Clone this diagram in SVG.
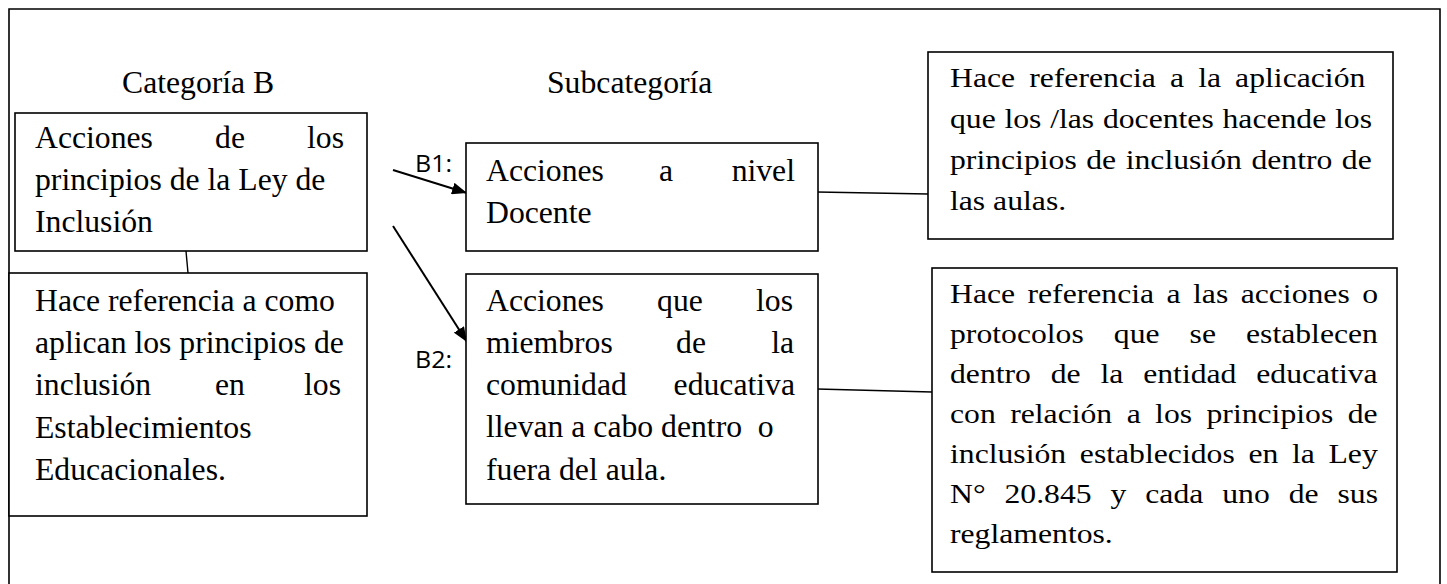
<svg xmlns="http://www.w3.org/2000/svg" width="1447" height="584" viewBox="0 0 1447 584">
<style>
.box{fill:#fff;stroke:#000;stroke-width:1.6}
.t{font-family:"Liberation Serif","Times New Roman",serif;font-size:31.7px;fill:#000}
.lbl{font-family:"Open Sans","DejaVu Sans",sans-serif;font-size:23px;fill:#000}
.ln{stroke:#000;stroke-width:1.4;fill:none}
.ar{stroke:#000;stroke-width:2;fill:none;marker-end:url(#ah)}
</style>
<defs>
<marker id="ah" viewBox="0 0 10 8" refX="10" refY="4" markerWidth="15" markerHeight="12" markerUnits="userSpaceOnUse" orient="auto">
<path d="M0,0 L10,4 L0,8 z" fill="#000"/>
</marker>
</defs>
<rect width="1447" height="584" fill="#fff"/>
<path id="frame" d="M9,600 V9 H1440 V600" fill="none" stroke="#000" stroke-width="1.6"/>
<g id="headers">
<text class="t" x="122" y="93">Categoría B</text>
<text class="t" x="547" y="93">Subcategoría</text>
</g>
<g id="connectors">
<line class="ln" x1="186" y1="251" x2="188" y2="273"/>
<line class="ar" x1="393" y1="170" x2="467" y2="193"/>
<line class="ar" x1="393" y1="226" x2="467" y2="342"/>
<line class="ln" x1="817" y1="192" x2="928" y2="194"/>
<line class="ln" x1="817" y1="389" x2="932" y2="392"/>
<text class="lbl" x="415" y="172" textLength="37" lengthAdjust="spacingAndGlyphs">B1:</text>
<text class="lbl" x="415" y="368" textLength="37" lengthAdjust="spacingAndGlyphs">B2:</text>
</g>
<g id="nodeA">
<rect class="box" x="15" y="113" width="352" height="138"/>
<text class="t" x="35" y="148">Acciones</text>
<text class="t" x="230" y="148" text-anchor="middle">de</text>
<text class="t" x="344" y="148" text-anchor="end">los</text>
<text class="t" x="35" y="190">principios de la Ley de</text>
<text class="t" x="35" y="232">Inclusión</text>
</g>
<g id="nodeC">
<rect class="box" x="9" y="273" width="358" height="243"/>
<text class="t" x="35" y="311">Hace referencia a como</text>
<text class="t" x="35" y="353">aplican los principios de</text>
<text class="t" x="35" y="395">inclusión</text>
<text class="t" x="230" y="395" text-anchor="middle">en</text>
<text class="t" x="341" y="395" text-anchor="end">los</text>
<text class="t" x="35" y="438">Establecimientos</text>
<text class="t" x="35" y="480">Educacionales.</text>
</g>
<g id="nodeB1">
<rect class="box" x="466" y="143" width="352" height="108"/>
<text class="t" x="486" y="181">Acciones</text>
<text class="t" x="666" y="181" text-anchor="middle">a</text>
<text class="t" x="795" y="181" text-anchor="end">nivel</text>
<text class="t" x="486" y="223">Docente</text>
</g>
<g id="nodeB2">
<rect class="box" x="466" y="274" width="352" height="230"/>
<text class="t" x="486" y="311">Acciones</text>
<text class="t" x="680" y="311" text-anchor="middle">que</text>
<text class="t" x="793" y="311" text-anchor="end">los</text>
<text class="t" x="486" y="353">miembros</text>
<text class="t" x="691" y="353" text-anchor="middle">de</text>
<text class="t" x="794" y="353" text-anchor="end">la</text>
<text class="t" x="486" y="395">comunidad</text>
<text class="t" x="795" y="395" text-anchor="end">educativa</text>
<text class="t" x="486" y="437" xml:space="preserve">llevan a cabo dentro  o</text>
<text class="t" x="486" y="480">fuera del aula.</text>
</g>
<g id="nodeD1">
<rect class="box" x="928" y="52" width="465" height="187"/>
<text class="t" transform="translate(950,87) scale(1,0.85)" word-spacing="6.2">Hace referencia a la aplicación</text>
<text class="t" transform="translate(950,128) scale(1,0.85)" word-spacing="0.8">que los /las docentes hacende los</text>
<text class="t" transform="translate(950,169) scale(1,0.85)" word-spacing="1.6">principios de inclusión dentro de</text>
<text class="t" transform="translate(950,210) scale(1,0.85)">las aulas.</text>
</g>
<g id="nodeD2">
<rect class="box" x="932" y="268" width="465" height="304"/>
<text class="t" transform="translate(950,303) scale(1,0.85)" word-spacing="4.5">Hace referencia a las acciones o</text>
<text class="t" transform="translate(950,343) scale(1,0.85)" word-spacing="22.1">protocolos que se establecen</text>
<text class="t" transform="translate(950,383) scale(1,0.85)" word-spacing="11.9">dentro de la entidad educativa</text>
<text class="t" transform="translate(950,423) scale(1,0.85)" word-spacing="6.5">con relación a los principios de</text>
<text class="t" transform="translate(950,463) scale(1,0.85)" word-spacing="5.75">inclusión establecidos en la Ley</text>
<text class="t" transform="translate(950,503) scale(1,0.85)" word-spacing="11">N° 20.845 y cada uno de sus</text>
<text class="t" transform="translate(950,543) scale(1,0.85)">reglamentos.</text>
</g>
</svg>
